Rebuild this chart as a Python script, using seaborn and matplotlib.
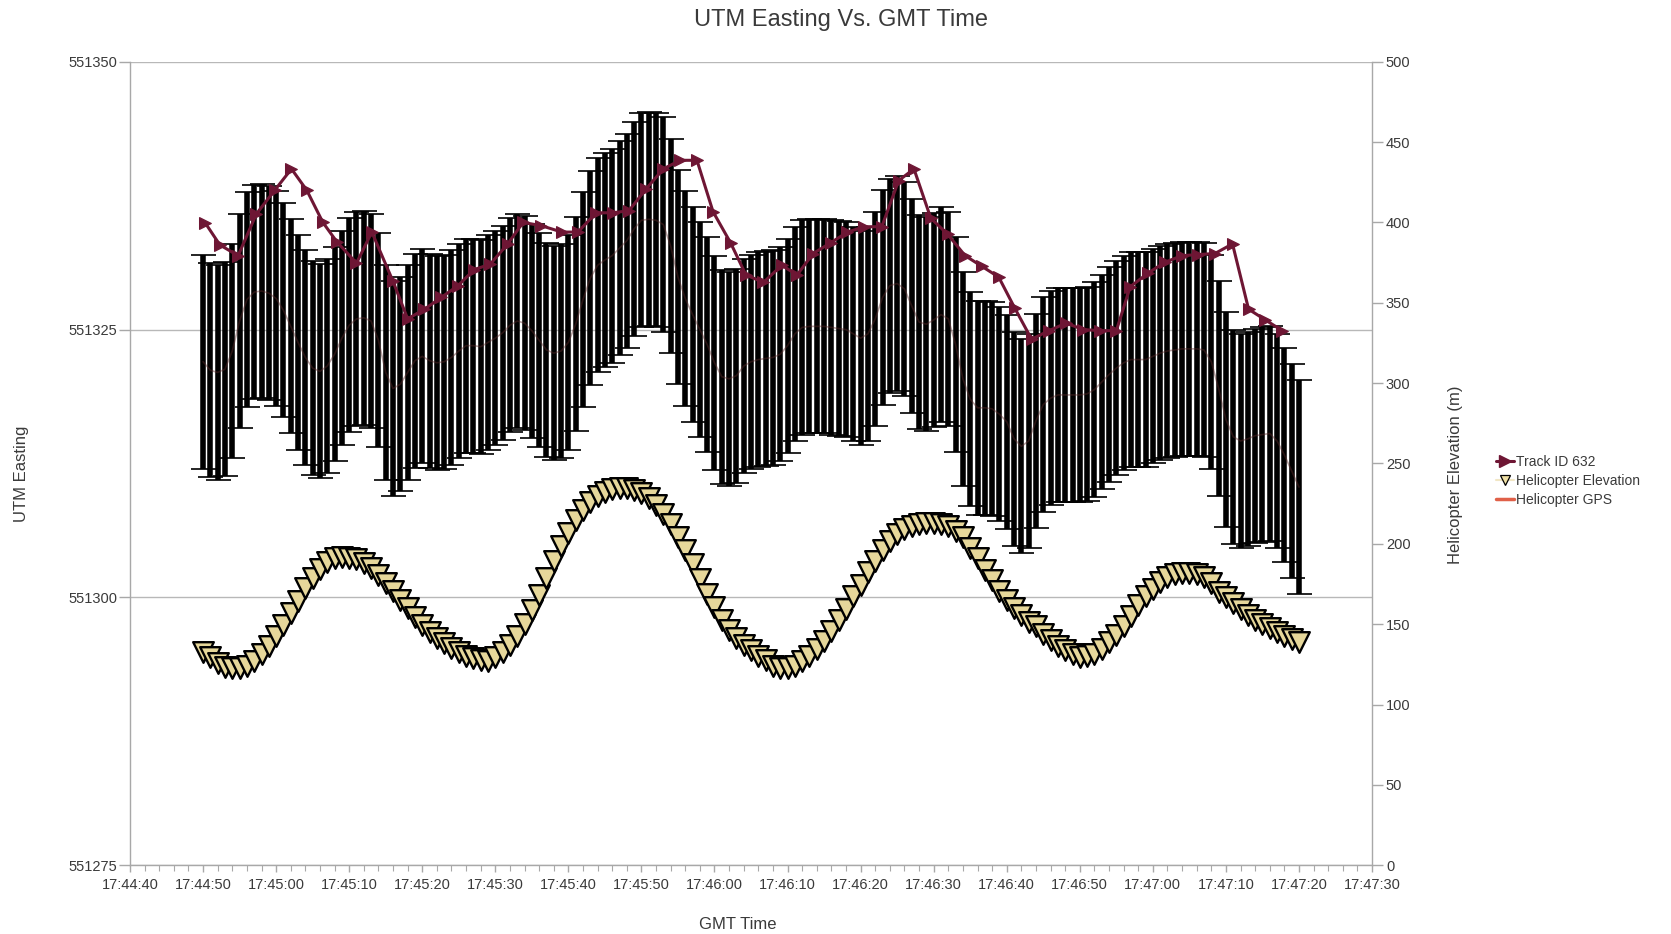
import matplotlib
matplotlib.use("Agg")
import matplotlib.pyplot as plt
import seaborn as sns
import pandas as pd
from matplotlib.lines import Line2D
from matplotlib.ticker import MultipleLocator

# ---------------- data ----------------
# time axis: seconds after 17:44:40 GMT
x_tick_seconds = [0, 10, 20, 30, 40, 50, 60, 70, 80, 90, 100, 110, 120, 130, 140, 150, 160, 170]
x_tick_labels = ["17:44:40", "17:44:50", "17:45:00", "17:45:10", "17:45:20", "17:45:30",
                 "17:45:40", "17:45:50", "17:46:00", "17:46:10", "17:46:20", "17:46:30",
                 "17:46:40", "17:46:50", "17:47:00", "17:47:10", "17:47:20", "17:47:30"]
left_ticks = [551275, 551300, 551325, 551350]
right_ticks = [0, 50, 100, 150, 200, 250, 300, 350, 400, 450, 500]

# Helicopter GPS (UTM easting, one sample per second from 17:44:50 to 17:47:20)
gps_seconds = list(range(10, 161))
gps_easting = [
    551322.0, 551321.2, 551321.0, 551321.3, 551323.0, 551325.8, 551327.8, 551328.5, 551328.6, 551328.4,
    551327.9, 551326.8, 551325.3, 551323.8, 551322.4, 551321.4, 551321.1, 551321.6, 551322.7, 551324.2,
    551325.4, 551326.0, 551326.1, 551325.8, 551324.0, 551321.0, 551319.5, 551319.9, 551321.0, 551322.1,
    551322.5, 551322.1, 551321.9, 551322.0, 551322.4, 551323.0, 551323.5, 551323.5, 551323.4, 551323.8,
    551324.2, 551324.7, 551325.4, 551325.8, 551325.6, 551324.9, 551324.0, 551323.1, 551322.8, 551323.0,
    551323.8, 551325.5, 551327.8, 551329.8, 551331.0, 551331.5, 551331.9, 551332.6, 551333.3, 551334.4,
    551335.2, 551335.3, 551335.2, 551334.8, 551332.8, 551329.9, 551327.9, 551326.4, 551325.0, 551323.6,
    551321.9, 551320.6, 551320.4, 551320.7, 551321.6, 551322.0, 551322.2, 551322.3, 551322.4, 551322.7,
    551323.5, 551324.6, 551325.2, 551325.3, 551325.3, 551325.3, 551325.2, 551325.1, 551325.0, 551324.6,
    551324.2, 551324.6, 551326.0, 551328.0, 551329.1, 551329.3, 551328.8, 551327.2, 551325.7, 551325.5,
    551325.9, 551326.4, 551326.0, 551323.6, 551320.4, 551318.5, 551317.7, 551317.7, 551317.6, 551317.1,
    551316.4, 551314.8, 551314.1, 551314.6, 551316.5, 551318.0, 551318.6, 551318.9, 551318.9, 551318.9,
    551318.9, 551319.0, 551319.4, 551320.1, 551320.8, 551321.4, 551321.9, 551322.2, 551322.2, 551322.2,
    551322.5, 551322.8, 551323.0, 551323.1, 551323.2, 551323.2, 551323.2, 551323.1, 551322.0, 551319.5,
    551316.6, 551315.0, 551314.6, 551314.8, 551315.1, 551315.2, 551315.3, 551314.6, 551313.3, 551311.8,
    551310.3]
gps_error_m = 10.0

# Helicopter elevation (m), same time samples as GPS
elevation_m = [
    133.0, 129.8, 126.0, 123.6, 122.8, 122.8, 124.2, 127.0, 131.5, 136.5,
    142.5, 149.5, 156.7, 164.6, 172.3, 179.0, 184.5, 188.8, 191.0, 191.6,
    191.4, 190.4, 188.0, 185.0, 180.5, 175.8, 170.5, 165.0, 159.8, 154.6,
    149.2, 145.0, 141.7, 138.2, 135.2, 132.5, 130.5, 129.0, 127.8, 127.3,
    129.3, 132.5, 136.9, 142.5, 150.3, 159.0, 168.2, 179.0, 189.3, 198.5,
    207.0, 214.8, 221.0, 226.1, 229.5, 232.3, 234.0, 234.5, 234.5, 233.5,
    231.5, 228.5, 224.2, 218.5, 212.3, 204.5, 196.0, 187.5, 178.4, 169.0,
    160.5, 152.5, 146.5, 141.7, 137.0, 134.0, 130.5, 127.5, 124.3, 122.9,
    122.7, 124.0, 126.8, 130.5, 134.5, 139.8, 146.0, 152.5, 159.7, 167.5,
    174.5, 182.5, 189.5, 196.0, 201.5, 206.2, 209.0, 211.3, 212.5, 213.0,
    213.0, 212.5, 211.0, 208.0, 204.0, 197.5, 191.0, 184.0, 177.5, 170.5,
    165.3, 160.0, 155.5, 151.5, 148.6, 144.1, 140.0, 136.6, 133.8, 131.2,
    129.8, 130.0, 131.5, 134.7, 139.0, 143.5, 148.8, 155.0, 162.0, 167.5,
    172.0, 176.2, 179.3, 181.5, 182.1, 182.1, 181.2, 179.5, 175.5, 170.2,
    167.0, 163.5, 159.5, 156.0, 152.8, 150.2, 147.8, 145.4, 142.9, 140.6,
    139.0]

# Track ID 632 (UTM easting)
track_seconds = [10.3, 12.3, 14.8, 17.3, 19.8, 22.1, 24.2, 26.4, 28.3, 31.0,
                 33.1, 36.0, 38.0, 40.3, 42.6, 44.9, 47.1, 49.3, 51.7, 53.8,
                 56.3, 59.1, 61.3, 63.8, 66.1, 68.3, 70.6, 73.0, 75.3, 77.6,
                 79.8, 82.2, 84.3, 86.7, 89.2, 91.3, 93.5, 95.9, 98.2, 100.5,
                 102.9, 105.2, 107.3, 109.6, 111.9, 114.3, 116.6, 118.9, 121.1, 123.4,
                 125.8, 128.1, 130.5, 132.8, 135.0, 136.9, 139.4, 141.7, 144.0, 146.2,
                 148.5, 150.9, 153.1, 155.4, 157.7]
track_easting = [551334.95, 551332.9, 551331.9, 551335.8, 551338.0, 551340.0, 551338.0, 551335.0, 551333.2, 551331.2,
                 551334.1, 551329.5, 551326.0, 551326.9, 551328.0, 551329.1, 551330.6, 551331.1, 551333.0, 551335.0,
                 551334.7, 551334.1, 551334.1, 551335.9, 551335.9, 551336.1, 551338.1, 551340.0, 551340.8, 551340.8,
                 551336.0, 551333.1, 551330.1, 551329.4, 551331.0, 551330.1, 551332.1, 551333.1, 551334.1, 551334.6,
                 551334.6, 551338.9, 551340.0, 551335.4, 551333.9, 551331.9, 551330.9, 551329.9, 551327.0, 551324.1,
                 551324.9, 551325.6, 551325.0, 551324.9, 551324.9, 551329.0, 551330.3, 551331.3, 551331.9, 551332.0,
                 551332.1, 551333.0, 551326.9, 551325.9, 551324.9]

series_labels = ["Track ID 632", "Helicopter Elevation", "Helicopter GPS"]

# ---------------- style ----------------
sns.set_theme(style="white")
plt.rcParams["font.family"] = ["Liberation Sans", "DejaVu Sans"]

maroon = "#6E1634"
text_col = "#3A3A3A"
axis_col = "#A8A8A8"

fig = plt.figure(figsize=(16.71, 9.34), dpi=100)
ax = fig.add_axes([0.0778, 0.0736, 0.7433, 0.8603])
ax2 = ax.twinx()

gps_df = pd.DataFrame({"t": gps_seconds, "e": gps_easting, "elev": elevation_m})
track_df = pd.DataFrame({"t": track_seconds, "e": track_easting})

# GPS error band (dense error bars)
ax.errorbar(gps_df["t"], gps_df["e"], yerr=gps_error_m, fmt="none", ecolor="black",
            elinewidth=4.0, capsize=9, capthick=1.2, zorder=2)
sns.lineplot(data=gps_df, x="t", y="e", ax=ax, color="#5a2a2a", lw=1.2, alpha=0.45,
             zorder=3, legend=False)
# Track
sns.lineplot(data=track_df, x="t", y="e", ax=ax, color=maroon, lw=2.2, marker=">",
             markersize=9, markeredgecolor=maroon, zorder=5, legend=False)
# Elevation on right axis
sns.scatterplot(data=gps_df, x="t", y="elev", ax=ax2, marker="v", s=220, color="#E6D79A",
                edgecolor="black", linewidth=1.7, zorder=3, legend=False)

ax.set_xlim(0, 170)
ax.set_ylim(551275, 551350)
ax2.set_ylim(0, 500)

ax.set_xticks(x_tick_seconds)
ax.set_xticklabels(x_tick_labels)
ax.xaxis.set_minor_locator(MultipleLocator(2))
ax.set_yticks(left_ticks)
ax.set_yticklabels([str(v) for v in left_ticks])
ax2.set_yticks(right_ticks)
ax2.set_yticklabels([str(v) for v in right_ticks])

ax.yaxis.grid(True, color="#B8B8B8", lw=1.0)
ax.xaxis.grid(False)
ax2.grid(False)
ax.set_axisbelow(True)

for a in (ax, ax2):
    a.set_xlabel("")
    a.set_ylabel("")
    a.spines["top"].set_visible(False)
    for s in ("left", "right", "bottom"):
        a.spines[s].set_color(axis_col)
        a.spines[s].set_linewidth(1.0)
ax.spines["right"].set_visible(False)
ax2.spines["left"].set_visible(False)
ax2.spines["bottom"].set_visible(False)

ax.tick_params(axis="y", which="major", left=True, direction="out", length=8, width=1,
               color=axis_col, pad=1, labelsize=10.5, labelcolor=text_col)
ax.tick_params(axis="x", which="major", bottom=True, direction="out", length=5, width=1,
               color=axis_col, pad=4, labelsize=10.5, labelcolor=text_col)
ax.tick_params(axis="x", which="minor", bottom=True, direction="out", length=4, width=0.8,
               color=axis_col)
ax2.tick_params(axis="y", which="major", right=True, direction="out", length=8, width=1,
                color=axis_col, pad=2, labelsize=10.5, labelcolor=text_col)

fig.text(0.503, 0.979, "UTM Easting Vs. GMT Time", ha="center", va="center",
         fontsize=17, color=text_col)
fig.text(0.4413, 0.0105, "GMT Time", ha="center", va="center", fontsize=12, color=text_col)
fig.text(0.0126, 0.4925, "UTM Easting", ha="center", va="center", rotation=90,
         fontsize=12, color=text_col)
fig.text(0.8713, 0.4914, "Helicopter Elevation (m)", ha="center", va="center", rotation=90,
         fontsize=12, color=text_col)

handles = [
    Line2D([], [], color=maroon, lw=2.2, marker=">", markersize=8, markeredgecolor=maroon),
    Line2D([], [], color="#F1E6C4", lw=1.5, marker="v", markersize=7,
           markerfacecolor="#EEDFA4", markeredgecolor="black", markeredgewidth=0.9),
    Line2D([], [], color="#E06048", lw=2.5),
]
leg = fig.legend(handles, series_labels, loc="center left", bbox_to_anchor=(0.895, 0.485),
                 frameon=False, fontsize=10, handlelength=1.3, handletextpad=0.15,
                 labelspacing=0.35, borderaxespad=0, borderpad=0)
for t in leg.get_texts():
    t.set_color(text_col)

fig.savefig("out.png", dpi=100)
